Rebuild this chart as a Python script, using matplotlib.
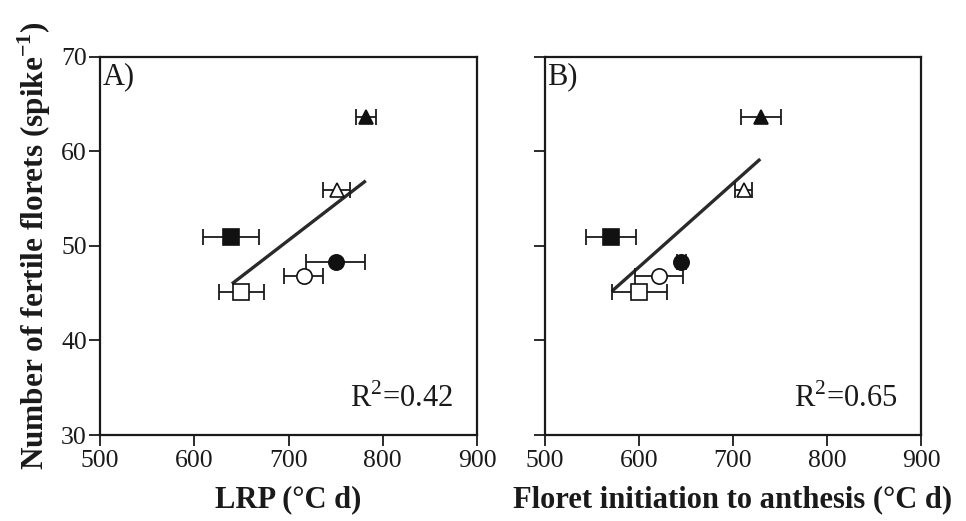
import matplotlib
matplotlib.use("Agg")
import matplotlib.pyplot as plt

plt.rcParams['font.family'] = ['Liberation Serif', 'DejaVu Serif']
plt.rcParams['mathtext.fontset'] = 'custom'
plt.rcParams['mathtext.rm'] = 'Liberation Serif'
plt.rcParams['mathtext.bf'] = 'Liberation Serif:bold'

# Data: marker order: filled triangle, open triangle, filled square, open square, filled circle, open circle
markers = ['^', '^', 's', 's', 'o', 'o']
filled = [True, False, True, False, True, False]
florets = [63.6, 55.9, 50.9, 45.1, 48.3, 46.8]

lrp = [782, 751, 639, 650, 750, 716]
lrp_err = [10.5, 14.5, 29.5, 23.5, 31, 20.5]
lrp_fit_x = [640, 782]
lrp_fit_y = [46.0, 56.9]

fi = [729.5, 711.5, 570, 600.5, 645, 621.5]
fi_err = [21.5, 9, 26.5, 29.5, 4.5, 25.5]
fi_fit_x = [571, 729]
fi_fit_y = [45.2, 59.2]

panels = [
    ("A)", lrp, lrp_err, lrp_fit_x, lrp_fit_y, "R$^{2}$=0.42", "LRP (°C d)"),
    ("B)", fi, fi_err, fi_fit_x, fi_fit_y, "R$^{2}$=0.65", "Floret initiation to anthesis (°C d)"),
]

fig = plt.figure(figsize=(9.66, 5.21), dpi=100)
axes = [fig.add_axes([100/966, 86/521, 377/966, 378/521]),
        fig.add_axes([545/966, 86/521, 376/966, 378/521])]

for i, (ax, (lab, xs, xe, fx, fy, r2, xlabel)) in enumerate(zip(axes, panels)):
    ax.plot(fx, fy, color='#2a2a2a', lw=2.4, zorder=2, solid_capstyle='butt')
    for x, y, e, m, f in zip(xs, florets, xe, markers, filled):
        ax.errorbar(x, y, xerr=e, fmt='none', ecolor='#1a1a1a', elinewidth=1.3,
                    capsize=5.5, capthick=1.3, zorder=3)
        ax.plot(x, y, marker=m, ms=11 if m != '^' else 10.5, linestyle='none',
                markerfacecolor='#111111' if f else 'white',
                markeredgecolor='#111111', markeredgewidth=1.2, zorder=4)
    ax.set_xlim(500, 900)
    ax.set_ylim(30, 70)
    ax.set_xticks([500, 600, 700, 800, 900])
    ax.set_yticks([30, 40, 50, 60, 70])
    ax.tick_params(axis='both', direction='out', length=8, width=1.3, labelsize=18.5, colors='#1a1a1a')
    ax.tick_params(axis='x', pad=3)
    ax.tick_params(axis='y', pad=1.5)
    for s in ax.spines.values():
        s.set_linewidth(1.6)
        s.set_color('#1a1a1a')
    if i == 1:
        ax.set_yticklabels([])
    ax.text(0.006, 0.985, lab, transform=ax.transAxes, ha='left', va='top', fontsize=22, color='#1a1a1a')
    ax.text(0.937, 0.055, r2, transform=ax.transAxes, ha='right', va='bottom', fontsize=22, color='#1a1a1a')
    ax.set_xlabel(xlabel, fontsize=22, fontweight='bold', labelpad=9, color='#1a1a1a')

axes[0].set_ylabel("Number of fertile florets (spike$^{\\mathbf{-1}}$)", fontsize=22.5,
                   fontweight='bold', labelpad=6, color='#1a1a1a')

fig.savefig("out.png", dpi=100)
